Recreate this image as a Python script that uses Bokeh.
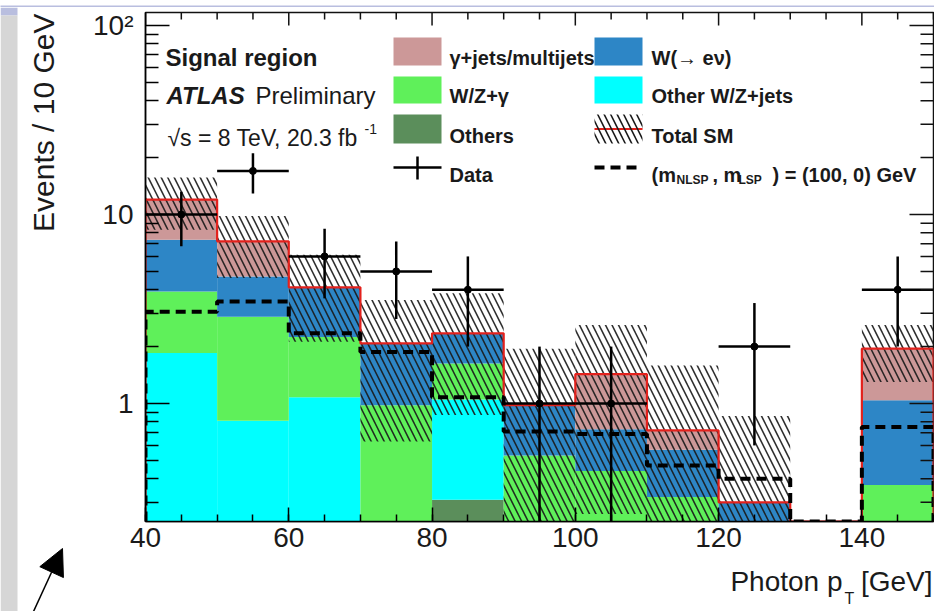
import numpy as np
from math import pi, log10
from bokeh.plotting import figure
from bokeh.layouts import row, column
from bokeh.models import (Range1d, FixedTicker, Label, BoxAnnotation, Arrow, NormalHead)
from bokeh.embed import file_html
from bokeh.resources import INLINE

# ---------------- data ----------------
edges = [40, 50, 60, 70, 80, 90, 100, 110, 120, 130, 140, 150]
others = [0.05, 0.05, 0.05, 0.0, 0.31, 0.0, 0.0, 0.0, 0.0, 0.0, 0.0]
other_wz_jets = [1.80, 0.76, 1.03, 0.15, 0.74, 0.0, 0.0, 0.0, 0.0, 0.0, 0.0]
wz_gamma = [2.06, 2.07, 1.17, 0.83, 0.58, 0.53, 0.44, 0.32, 0.15, 0.0, 0.37]
w_enu = [3.45, 1.82, 1.87, 1.10, 0.72, 0.45, 0.29, 0.25, 0.15, 0.0, 0.67]
gamma_jets = [4.64, 2.51, 0.0, 0.0, 0.0, 0.0, 0.70, 0.15, 0.0, 0.0, 0.91]
total_sm_err = [3.7, 2.6, 2.0, 1.45, 1.48, 0.97, 1.17, 0.87, 0.56, 0.0, 0.65]
signal_100_0 = [3.06, 3.46, 2.35, 1.87, 1.08, 0.71, 0.69, 0.47, 0.40, 0.0, 0.75]
data_counts = [10, 17, 6, 5, 4, 1, 1, 0, 2, 0, 4]
data_err = [3.2, 4.1, 2.4, 2.2, 2.0, 1.0, 1.0, 0.0, 1.4, 0.0, 2.0]

x_ticks = [40, 60, 80, 100, 120, 140]
x_minor = list(range(40, 151, 5))
y_ticks = [1, 10, 100]
y_tick_labels = ["1", "10", "10\u00b2"]
y_minor = [0.3, 0.4, 0.5, 0.6, 0.7, 0.8, 0.9, 2, 3, 4, 5, 6, 7, 8, 9,
           20, 30, 40, 50, 60, 70, 80, 90]

# ---------------- page layout (pixel positions on the page) ----------------
W, H = 934, 611
BAND = 7            # lavender slide band at the top
SIDE = 85           # width of the strip holding the y title
MAIN_BOTTOM = 561   # page y where the main figure ends
FL, FR, FT, FB = 145, 933, 12, 521   # plot frame on the page
XMIN, XMAX = 40, 150
YMIN, YMAX = 10 ** (-118 / 189), 10 ** (1 + 202 / 189)
FONT = "Liberation Sans"
TXT = "#1a1a1a"
HATCH = dict(hatch_pattern="left_diagonal_line", hatch_color="#1a1a1a",
             hatch_scale=13, hatch_weight=1.6)
LAVENDER = "#b9bedf"
GREY = "#d6d6d6"


def px_x(X):
    return XMIN + (X - FL) * (XMAX - XMIN) / (FR - FL)


def px_y(Y):
    lo, hi = log10(YMIN), log10(YMAX)
    return 10 ** (lo + (FB - Y) * (hi - lo) / (FB - FT))


def blank(width, height, x0, x1, y_top, y_bottom, bg="white"):
    f = figure(width=width, height=height, x_range=Range1d(x0, x1),
               y_range=Range1d(y_bottom, y_top), output_backend="svg",
               toolbar_location=None, x_axis_location=None, y_axis_location=None,
               min_border=0)
    f.grid.visible = False
    f.outline_line_color = None
    f.background_fill_color = bg
    f.border_fill_color = bg
    return f


def label_on(fig, txt, x, y, size, style="normal", align="left", angle=0.0):
    fig.add_layout(Label(x=x, y=y, text=txt, text_font=FONT,
                         text_font_size=size, text_font_style=style,
                         text_color=TXT, text_align=align,
                         text_baseline="alphabetic", angle=angle))


# ---------------- main figure ----------------
p = figure(width=W - SIDE, height=MAIN_BOTTOM - BAND, x_range=Range1d(XMIN, XMAX),
           y_range=Range1d(YMIN, YMAX), y_axis_type="log",
           output_backend="svg", toolbar_location=None,
           min_border_left=FL - SIDE, min_border_right=W - FR,
           min_border_top=FT - BAND, min_border_bottom=MAIN_BOTTOM - FB)
p.xgrid.visible = False
p.ygrid.visible = False
p.background_fill_color = "white"
p.border_fill_color = "white"
p.outline_line_color = "#111111"
p.outline_line_width = 1.5

xt = FixedTicker(ticks=x_ticks, minor_ticks=x_minor)
yt = FixedTicker(ticks=y_ticks, minor_ticks=y_minor)

xa = p.xaxis[0]
xa.ticker = xt
xa.major_tick_in = 14
xa.major_tick_out = 0
xa.minor_tick_in = 7
xa.minor_tick_out = 0
xa.axis_line_width = 1.5
xa.major_tick_line_width = 1.5
xa.minor_tick_line_width = 1.5
xa.major_label_text_font = FONT
xa.major_label_text_font_size = "28px"
xa.major_label_text_color = TXT
xa.major_label_standoff = 6

ya = p.yaxis[0]
ya.ticker = yt
ya.major_label_overrides = {t: s for t, s in zip(y_ticks, y_tick_labels)}
ya.major_tick_in = 24
ya.major_tick_out = 0
ya.minor_tick_in = 13
ya.minor_tick_out = 0
ya.axis_line_width = 1.5
ya.major_tick_line_width = 1.5
ya.minor_tick_line_width = 1.5
ya.major_label_text_font = FONT
ya.major_label_text_font_size = "28px"
ya.major_label_text_color = TXT
ya.major_label_standoff = 12

# stacked backgrounds
left = np.array(edges[:-1], dtype=float)
right = np.array(edges[1:], dtype=float)
qfloor = YMIN * 0.5
components = [
    (others, "#5b8e5b"),
    (other_wz_jets, "#00ffff"),
    (wz_gamma, "#5ff05a"),
    (w_enu, "#2d86c6"),
    (gamma_jets, "#cc9898"),
]
base = np.zeros(len(left))
for vals, col in components:
    top = base + np.array(vals, dtype=float)
    p.quad(left=left, right=right, bottom=np.maximum(base, qfloor),
           top=np.maximum(top, qfloor), fill_color=col, line_color=None)
    base = top
total = base

# uncertainty band (hatched)
err = np.array(total_sm_err, dtype=float)
mask = total > 0
p.quad(left=left[mask], right=right[mask],
       bottom=np.maximum(total[mask] - err[mask], qfloor),
       top=total[mask] + err[mask], fill_color=None, fill_alpha=0,
       line_color=None, hatch_alpha=0.9, **HATCH)


def step_xy(vals):
    xs, ys = [edges[0]], [YMIN]
    for i, v in enumerate(vals):
        xs += [edges[i], edges[i + 1]]
        ys += [max(v, YMIN)] * 2
    xs.append(edges[-1])
    ys.append(YMIN)
    return xs, ys


tx, ty = step_xy(total)
p.line(tx, ty, line_color="#e3211c", line_width=2.2)
sx_, sy_ = step_xy(signal_100_0)
p.line(sx_, sy_, line_color="black", line_width=4, line_dash="10 6")

# data points
d = np.array(data_counts, dtype=float)
de = np.array(data_err, dtype=float)
ctr = (left + right) / 2
dm = d > 0
p.segment(x0=left[dm], x1=right[dm], y0=d[dm], y1=d[dm], line_color="black", line_width=2.5)
p.segment(x0=ctr[dm], x1=ctr[dm], y0=np.maximum(d[dm] - de[dm], qfloor),
          y1=d[dm] + de[dm], line_color="black", line_width=2.5)
p.scatter(ctr[dm], d[dm], size=7, color="black")

# ticks on the top and right frame edges
tk = dict(line_color="#111111", line_width=1.5)
xmaj = np.array(x_ticks, dtype=float)
xmin_ = np.array([t for t in x_minor if t not in x_ticks], dtype=float)
p.segment(x0=xmaj, x1=xmaj, y0=[YMAX] * len(xmaj), y1=[px_y(FT + 13)] * len(xmaj), **tk)
p.segment(x0=xmin_, x1=xmin_, y0=[YMAX] * len(xmin_), y1=[px_y(FT + 7)] * len(xmin_), **tk)
ymaj = np.array([t for t in y_ticks if YMIN <= t <= YMAX], dtype=float)
ymin_ = np.array([t for t in y_minor if YMIN <= t <= YMAX], dtype=float)
p.segment(x0=[XMAX] * len(ymaj), x1=[px_x(FR - 24)] * len(ymaj), y0=ymaj, y1=ymaj, **tk)
p.segment(x0=[XMAX] * len(ymin_), x1=[px_x(FR - 13)] * len(ymin_), y0=ymin_, y1=ymin_, **tk)


# legend (positions given in page pixels)
def box(x0, x1, y0, y1, **kw):
    p.add_layout(BoxAnnotation(left=px_x(x0), right=px_x(x1), top=px_y(y0),
                               bottom=px_y(y1), line_color=None, **kw))


def label(txt, X, Y, size, style="normal", align="left"):
    label_on(p, txt, px_x(X), px_y(Y), size, style, align)


label("Signal region", 165, 57, "24px", "bold")
label("ATLAS", 166, 95, "24px", "bold italic")
label("Preliminary", 255, 95, "24px")
label("\u221as = 8 TeV, 20.3 fb", 167, 137, "23px")
label("-1", 364, 128, "14px")

box(393, 441, 37, 65, fill_color="#cc9898", fill_alpha=1)
label("\u03b3+jets/multijets", 449, 57, "20px", "bold")
box(393, 441, 76, 103, fill_color="#5ff05a", fill_alpha=1)
label("W/Z+\u03b3", 449, 95, "20px", "bold")
box(393, 441, 114, 143, fill_color="#5b8e5b", fill_alpha=1)
label("Others", 449, 135, "20px", "bold")
p.line([px_x(393), px_x(441)], [px_y(167), px_y(167)], line_color="black", line_width=2.5)
p.line([px_x(417), px_x(417)], [px_y(156), px_y(179)], line_color="black", line_width=2.5)
label("Data", 449, 174, "20px", "bold")

box(594, 642, 37, 65, fill_color="#2d86c6", fill_alpha=1)
label("W(\u2192 e\u03bd)", 651, 57, "20px", "bold")
box(594, 642, 76, 103, fill_color="#00ffff", fill_alpha=1)
label("Other W/Z+jets", 651, 95, "20px", "bold")
box(594, 642, 114, 143, fill_alpha=0, fill_color=None, **HATCH)
p.line([px_x(594), px_x(642)], [px_y(128.5), px_y(128.5)], line_color="#e3211c", line_width=2.2)
label("Total SM", 651, 135, "20px", "bold")
p.line([px_x(594), px_x(642)], [px_y(167), px_y(167)], line_color="black",
       line_width=4, line_dash="10 6")
label("(m", 651, 174, "20px", "bold")
label("NLSP", 676, 179, "12px", "bold")
label(", m", 712, 174, "20px", "bold")
label("LSP", 738, 179, "12px", "bold")
label(") = (100, 0) GeV", 772, 174, "20px", "bold")

# ---------------- top slide band ----------------
band = blank(W, BAND, 0, W, 0, BAND, bg=LAVENDER)

# ---------------- left strip: y title + arrow ----------------
side = blank(SIDE, H - BAND, 0, SIDE, BAND, H)
side.quad(left=[0], right=[17], top=[BAND], bottom=[15], fill_color=LAVENDER, line_color=None)
side.quad(left=[0], right=[17], top=[15], bottom=[H], fill_color=GREY, line_color=None)
label_on(side, "Events / 10 GeV", 43, 13, "30px", align="right", angle=pi / 2)
side.add_layout(Arrow(end=NormalHead(size=26, fill_color="black", line_color="black"),
                      x_start=33, y_start=H, x_end=62, y_end=548,
                      line_color="black", line_width=1.5))

# ---------------- bottom strip: x title ----------------
bottom = blank(W - SIDE, H - MAIN_BOTTOM, SIDE, W, MAIN_BOTTOM, H)
label_on(bottom, "Photon p", 836, 581, "28px", align="right")
label_on(bottom, "T", 838, 598, "16px")
label_on(bottom, "[GeV]", 933, 581, "28px", align="right")

layout = column(band, row(side, column(p, bottom)))
open("out.html", "w").write(file_html(layout, INLINE))
